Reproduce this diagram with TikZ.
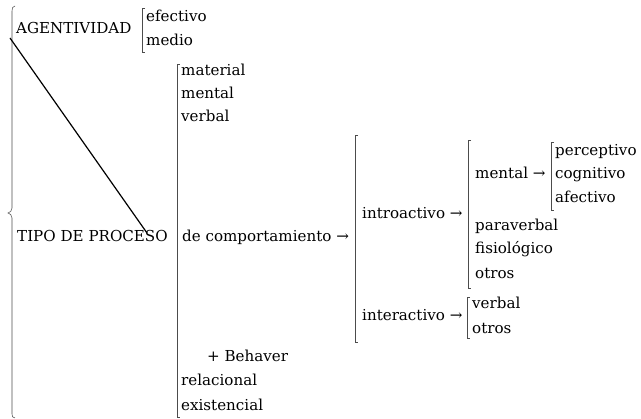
\documentclass[tikz,border=0pt]{standalone}
\usepackage{fontspec}
\setmainfont{DejaVu Serif}
\begin{document}
\begin{tikzpicture}[x=1pt,y=-1pt,
  lbl/.style={anchor=base west,inner sep=0pt,font=\fontsize{15.1}{17}\selectfont},
  brk/.style={draw=black!70,line width=0.55pt},
  diag/.style={draw=black,line width=1.2pt}]
\useasboundingbox (0,0) rectangle (641,419);
% left brace
\draw[brk] (15,6) .. controls (12.5,6.5) and (12,8) .. (12,11) -- (12,208)
  .. controls (12,211) and (10,212.5) .. (8,213) .. controls (10,213.5) and (12,215) .. (12,218)
  -- (12,414) .. controls (12,416.5) and (12.5,417.5) .. (15,418);
% level 1
\node[lbl] (agent) at (16,34) {AGENTIVIDAD};
\node[lbl] (tipo) at (17,242) {TIPO DE PROCESO};
% agentividad children
\draw[brk] (145,8) -- (142,8) -- (142,52) -- (145,52);
\node[lbl] (efectivo) at (146,22) {efectivo};
\node[lbl] (medio) at (146,46) {medio};
% tipo de proceso children
\draw[brk] (180,64) -- (177,64) -- (177,417) -- (180,417);
\node[lbl] (material) at (181,76) {material};
\node[lbl] (mental1) at (181,99) {mental};
\node[lbl] (verbal1) at (181,122) {verbal};
\node[lbl] (comp) at (182,242) {de comportamiento →};
\node[lbl] (behaver) at (207,362) {+ Behaver};
\node[lbl] (relac) at (181,386) {relacional};
\node[lbl] (exist) at (181,411) {existencial};
% de comportamiento children
\draw[brk] (358,135) -- (355,135) -- (355,342) -- (358,342);
\node[lbl] (intro) at (362,219) {introactivo →};
\node[lbl] (inter) at (362,321) {interactivo →};
% introactivo children
\draw[brk] (471,140) -- (468,140) -- (468,288) -- (471,288);
\node[lbl] (mental2) at (475,179) {mental →};
\node[lbl] (paraverbal) at (475,231) {paraverbal};
\node[lbl] (fisio) at (475,254) {fisiológico};
\node[lbl] (otros1) at (475,279) {otros};
% mental children
\draw[brk] (554,142) -- (551,142) -- (551,210) -- (554,210);
\node[lbl] (percep) at (555,156) {perceptivo};
\node[lbl] (cogn) at (555,179) {cognitivo};
\node[lbl] (afect) at (555,203) {afectivo};
% interactivo children
\draw[brk] (470,297) -- (467,297) -- (467,338) -- (470,338);
\node[lbl] (verbal2) at (472,309) {verbal};
\node[lbl] (otros2) at (472,334) {otros};
% diagonal line
\coordinate (dstart) at (10,38);
\coordinate (dend) at (147,233);
\draw[diag] (dstart) -- (dend);
\end{tikzpicture}
\end{document}
